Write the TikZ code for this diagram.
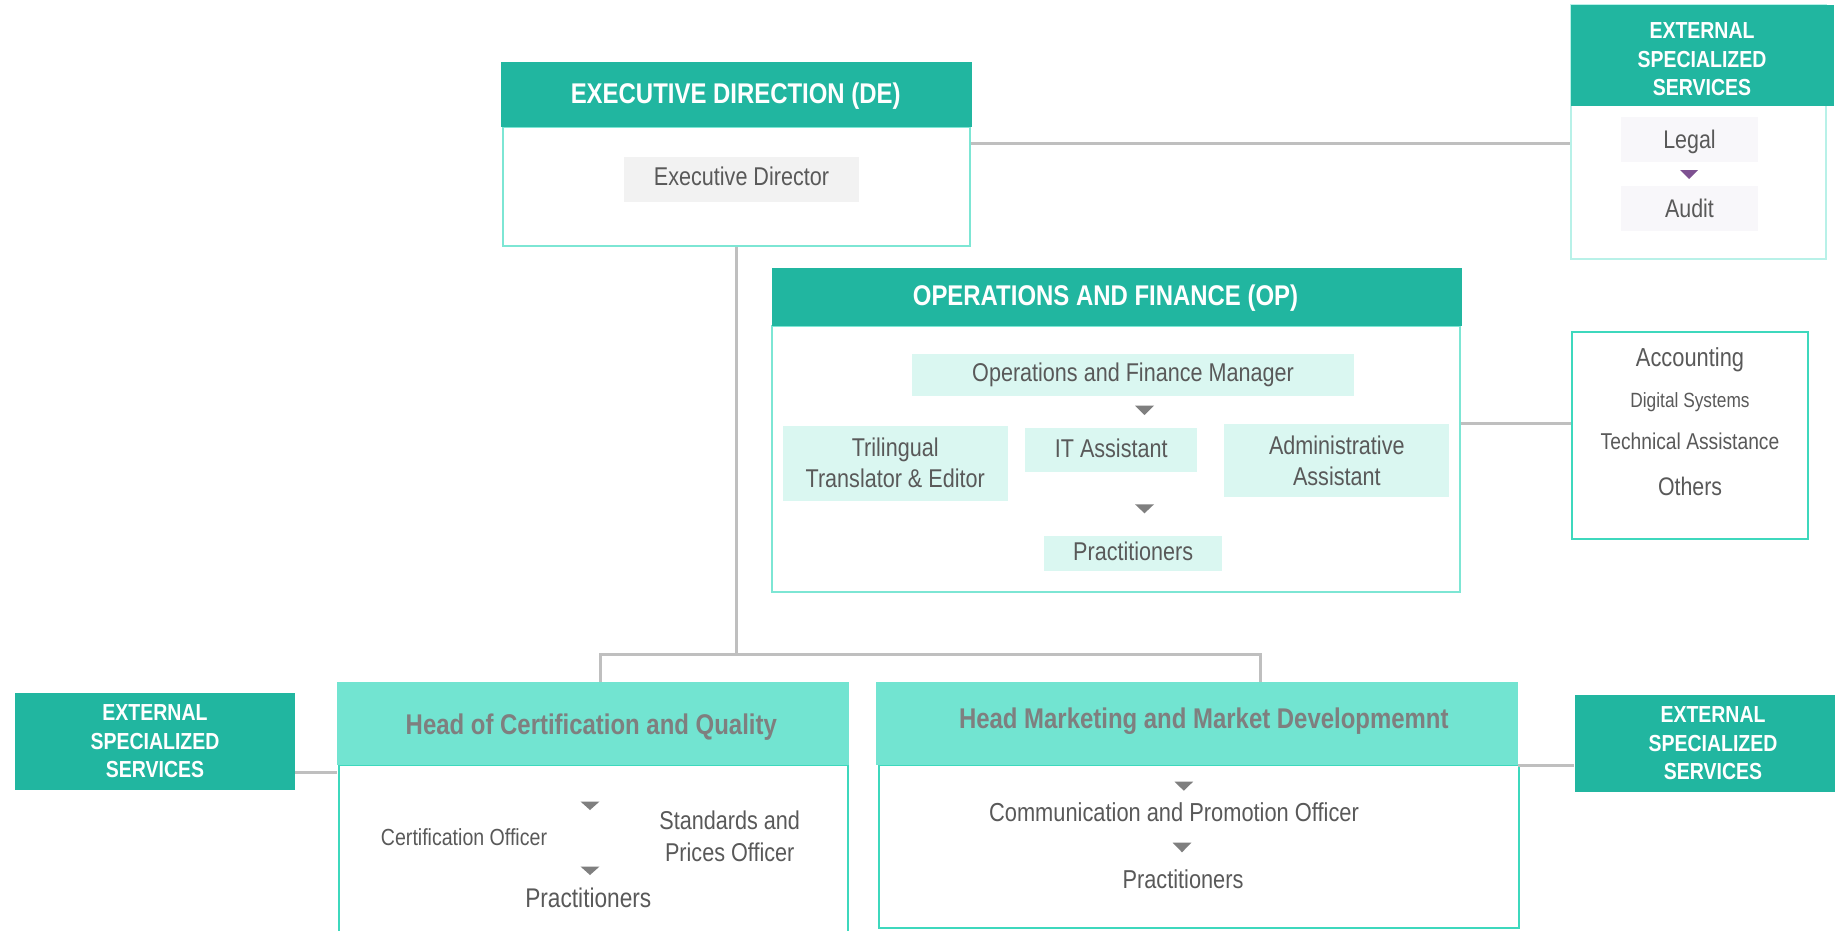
\documentclass[tikz,border=0pt]{standalone}
\usepackage{fontspec}
\setmainfont{Liberation Sans}[FakeStretch=0.84]
\definecolor{deepteal}{HTML}{21B6A0}
\definecolor{lightteal}{HTML}{72E4D1}
\definecolor{paleedge}{HTML}{7DE6D4}
\definecolor{brightedge}{HTML}{3ED8BD}
\definecolor{faintedge}{HTML}{B8F1E8}
\definecolor{mint}{HTML}{DAF7F1}
\definecolor{ashbox}{HTML}{F2F2F2}
\definecolor{lilacbox}{HTML}{F8F7FA}
\definecolor{linkgrey}{HTML}{BFBFBF}
\definecolor{inkgrey}{HTML}{595959}
\definecolor{headgrey}{HTML}{7F7F7F}
\definecolor{trigrey}{HTML}{7F7F7F}
\definecolor{plum}{HTML}{7E5191}
\newcommand{\fsz}[2]{\fontsize{#1}{#2}\selectfont}

\begin{document}
\begin{tikzpicture}[x=1pt, y=-1pt,
  conn/.style = {draw=linkgrey, line width=3pt},
  panel/.style = {draw=#1, line width=2pt, fill=white, inner sep=0pt},
  head/.style = {fill=deepteal, inner sep=0pt},
  headtext/.style = {text=white, font=\bfseries\fsz{28.5}{34}, inner sep=0pt, text depth=0pt},
  subhead/.style = {fill=lightteal, inner sep=0pt},
  subheadtext/.style = {text=headgrey, font=\bfseries\fsz{28.5}{34}, inner sep=0pt, text depth=0pt},
  subbox/.style = {fill=#1, text=inkgrey, font=\fsz{25.7}{31}, inner sep=0pt, align=center},
  plaintext/.style = {text=inkgrey, inner sep=0pt, align=center},
  nodepth/.style = {text depth=0pt},
  extbox/.style = {fill=deepteal, text=white, font=\bfseries\fsz{23.2}{28.6}, inner sep=0pt, align=center}]
\useasboundingbox (0,0) rectangle (1835,930);

% executive direction
\node (debody) at (736.5,186.5) [panel=paleedge, minimum width=467pt, minimum height=119pt] {};
\node (dehead) at (736.5,94.5) [head, minimum width=471pt, minimum height=65pt] {};
\node (detitle) at (735.7,93.3) [headtext] {EXECUTIVE DIRECTION (DE)};
\node (dedir) at (741.5,179.5) [subbox=ashbox, minimum width=235pt, minimum height=45pt, text depth=7.4pt] {Executive Director};

% external services, top right
\node (extbody) at (1698.1,132) [panel=faintedge, minimum width=255pt, minimum height=254pt] {};
\node (exthead) at (1702,55.5) [extbox, minimum width=263pt, minimum height=101pt] {};
\node (exttitle) at (1702,59.3) [extbox, fill=none] {EXTERNAL\\SPECIALIZED\\SERVICES};
\node (legal) at (1689.5,139.2) [subbox=lilacbox, minimum width=137pt, minimum height=45pt, font=\fsz{25.5}{31}, nodepth] {Legal};
\fill[plum] (1680,170) -- (1698,170) -- (1689,179) -- cycle;
\node (audit) at (1689.5,208.3) [subbox=lilacbox, minimum width=137pt, minimum height=45pt, font=\fsz{25.5}{31}, nodepth] {Audit};

% operations and finance
\node (opbody) at (1116,458.85) [panel=paleedge, minimum width=688.6pt, minimum height=266.3pt] {};
\node (ophead) at (1116.8,296.8) [head, minimum width=690.3pt, minimum height=57.7pt] {};
\node (optitle) at (1105.5,295) [headtext] {OPERATIONS AND FINANCE (OP)};
\node (opmgr) at (1133,375) [subbox=mint, minimum width=442.6pt, minimum height=42pt] {Operations and Finance Manager};
\fill[trigrey] (1135,405.7) -- (1154,405.7) -- (1144.5,415) -- cycle;
\node (optrans) at (895.2,463.2) [subbox=mint, minimum width=225pt, minimum height=75pt] {Trilingual\\Translator \& Editor};
\node (opit) at (1111.2,449.7) [subbox=mint, minimum width=172.3pt, minimum height=44pt, text depth=4pt] {IT Assistant};
\node (opadmin) at (1336.8,460.7) [subbox=mint, minimum width=225pt, minimum height=73.3pt] {Administrative\\Assistant};
\fill[trigrey] (1135,504.3) -- (1154,504.3) -- (1144.5,513.3) -- cycle;
\node (oppract) at (1133.2,553.3) [subbox=mint, minimum width=178.3pt, minimum height=35.3pt, text depth=4.6pt] {Practitioners};

% accounting and support
\node (accbody) at (1690,435.5) [panel=brightedge, minimum width=236pt, minimum height=207pt] {};
\node (accounting) at (1690,357.5) [plaintext, font=\fsz{26}{31}, nodepth] {Accounting};
\node (digital) at (1690,400) [plaintext, font=\fsz{20.6}{25}, nodepth] {Digital Systems};
\node (technical) at (1690,441) [plaintext, font=\fsz{22.9}{27}, nodepth] {Technical Assistance};
\node (others) at (1690,486) [plaintext, font=\fsz{25.4}{31}, nodepth] {Others};

% certification and quality
\node (certbody) at (593.5,852.5) [panel=brightedge, minimum width=508.4pt, minimum height=175pt] {};
\node (certhead) at (593.2,723.4) [subhead, minimum width=511.7pt, minimum height=83.3pt] {};
\node (certtitle) at (591.3,724.3) [subheadtext] {Head of Certification and Quality};
\fill[trigrey] (580.7,801.7) -- (599.3,801.7) -- (590,810) -- cycle;
\node (certoff) at (464,836.7) [plaintext, font=\fsz{23.3}{28}, nodepth] {Certification Officer};
\node (stdoff) at (729.7,836.2) [plaintext, font=\fsz{25.75}{32.3}] {Standards and\\Prices Officer};
\fill[trigrey] (580.7,866.7) -- (599.3,866.7) -- (590,875) -- cycle;
\node (certpract) at (588.3,897.5) [plaintext, font=\fsz{27}{32}, nodepth] {Practitioners};
\node (leftext) at (155,741.4) [extbox, minimum width=280pt, minimum height=96.7pt] {EXTERNAL\\SPECIALIZED\\SERVICES};

% marketing and market development
\node (mktbody) at (1198.8,846.35) [panel=brightedge, minimum width=640.4pt, minimum height=162.7pt] {};
\node (mkthead) at (1197,723.5) [subhead, minimum width=642pt, minimum height=83pt] {};
\node (mkttitle) at (1203.8,718.5) [subheadtext] {Head Marketing and Market Developmemnt};
\fill[trigrey] (1174.5,781.7) -- (1193.1,781.7) -- (1183.8,790.7) -- cycle;
\node (mktcomm) at (1174,811.7) [plaintext, font=\fsz{26}{31}, nodepth] {Communication and Promotion Officer};
\fill[trigrey] (1172.7,842.7) -- (1191.3,842.7) -- (1182,852.3) -- cycle;
\node (mktpract) at (1183,878.8) [plaintext, font=\fsz{25.9}{31}, nodepth] {Practitioners};
\node (rightext) at (1713,743.3) [extbox, minimum width=276.8pt, minimum height=96.7pt] {EXTERNAL\\SPECIALIZED\\SERVICES};

% connectors
\coordinate (delink) at ([yshift=-17pt]debody.north east);
\draw [conn] (delink) -- (delink -| extbody.west);
\draw [conn] (opadmin.north -| opbody.east) -- (opadmin.north -| accbody.west);
\draw [conn] (debody.south) -- ++(0,407.3) coordinate (split);
\coordinate (certin) at ([xshift=6.8pt]certhead.north);
\coordinate (mktin) at ([xshift=63.8pt]mkthead.north);
\draw [conn] (certin) |- (split) -| (mktin);
\coordinate (certlink) at ([yshift=-7.7pt]certhead.south west);
\draw [conn] (certlink -| leftext.east) -- (certlink);
\draw [conn] (mkthead.south east) -- (mkthead.south east -| rightext.west);
\end{tikzpicture}
\end{document}
